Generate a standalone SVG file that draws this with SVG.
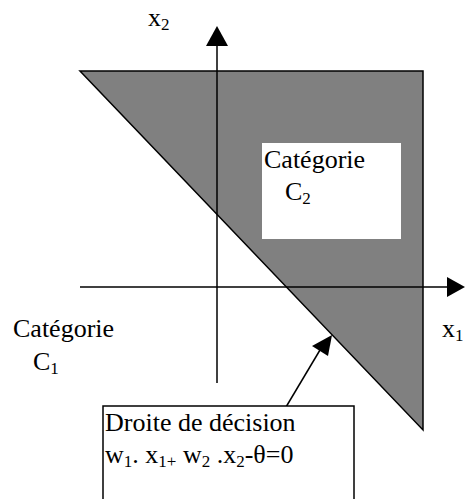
<svg xmlns="http://www.w3.org/2000/svg" width="465" height="499" viewBox="0 0 465 499">
<defs>
<style>
.t{font-family:"Liberation Serif","Times New Roman",serif;font-size:26px;fill:#000}
.s{font-size:17px}
.ln{stroke:#000;stroke-width:1.5;fill:none}
</style>
</defs>
<rect width="465" height="499" fill="#fff"/>
<g id="region-c2">
<polygon points="80,71 423,71 423,430" fill="#808080" stroke="#000" stroke-width="1.5" stroke-linejoin="miter"/>
<rect x="262" y="143" width="139" height="96" fill="#fff"/>
<text class="t" x="264" y="168">Catégorie</text>
<text class="t" x="285" y="200">C<tspan class="s" dy="4">2</tspan></text>
</g>
<g id="connectors">
<line class="ln" x1="217" y1="383" x2="217" y2="45"/>
<polygon points="217,26 206,46 228,46" fill="#000"/>
<line class="ln" x1="80" y1="287" x2="448" y2="287"/>
<polygon points="465,287 447,277 447,297" fill="#000"/>
<line class="ln" x1="286" y1="407" x2="320" y2="350"/>
<polygon points="332,335 312,346 328,356" fill="#000"/>
</g>
<g id="axis-x2"><text class="t" x="148" y="26">x<tspan class="s" dy="4">2</tspan></text></g>
<g id="axis-x1"><text class="t" x="442" y="337">x<tspan class="s" dy="4">1</tspan></text></g>
<g id="region-c1">
<text class="t" x="13" y="337">Catégorie</text>
<text class="t" x="33" y="370">C<tspan class="s" dy="4">1</tspan></text>
</g>
<g id="decision-box">
<rect x="103" y="406" width="251" height="110" fill="#fff" stroke="#000" stroke-width="1.5"/>
<text class="t" x="105" y="431">Droite de décision</text>
<text class="t" x="105" y="463">w<tspan class="s" dy="4">1</tspan><tspan dy="-4">. x</tspan><tspan class="s" dy="4">1+</tspan><tspan dy="-4"> w</tspan><tspan class="s" dy="4">2</tspan><tspan dy="-4"> .x</tspan><tspan class="s" dy="4">2</tspan><tspan dy="-4">-θ=0</tspan></text>
</g>
</svg>
